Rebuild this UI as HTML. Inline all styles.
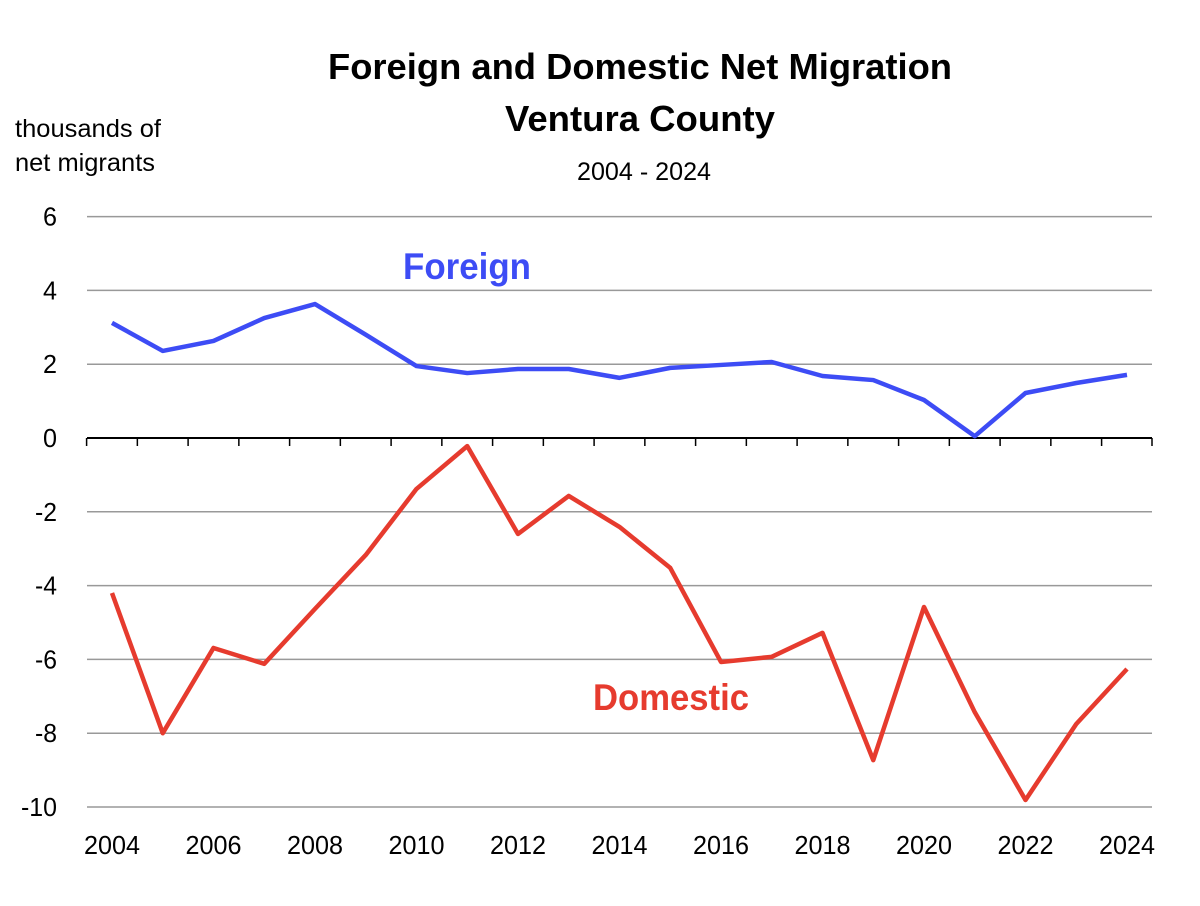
<!DOCTYPE html>
<html><head><meta charset="utf-8"><style>
body{margin:0;background:#fff;}
svg text{font-family:"Liberation Sans",Arial,sans-serif;}
</style></head><body>
<svg width="1200" height="901" viewBox="0 0 1200 901" xmlns="http://www.w3.org/2000/svg">
<text x="640" y="79" text-anchor="middle" font-size="36" font-weight="bold" textLength="624" lengthAdjust="spacingAndGlyphs">Foreign and Domestic Net Migration</text>
<text x="640" y="131" text-anchor="middle" font-size="36" font-weight="bold" textLength="270" lengthAdjust="spacingAndGlyphs">Ventura County</text>
<text x="644" y="180" text-anchor="middle" font-size="25" textLength="134" lengthAdjust="spacingAndGlyphs">2004 - 2024</text>
<text x="15" y="137" font-size="25" textLength="146" lengthAdjust="spacingAndGlyphs">thousands of</text>
<text x="15" y="171" font-size="25" textLength="140" lengthAdjust="spacingAndGlyphs">net migrants</text>
<g id="grid"></g>
<g id="marks"></g>
<text x="467" y="279" text-anchor="middle" font-size="37" font-weight="bold" fill="#3d4cf5" textLength="128" lengthAdjust="spacingAndGlyphs">Foreign</text>
<text x="671" y="710" text-anchor="middle" font-size="37" font-weight="bold" fill="#e63b2e" textLength="156" lengthAdjust="spacingAndGlyphs">Domestic</text>
</svg>
<script>
const years=[2004,2005,2006,2007,2008,2009,2010,2011,2012,2013,2014,2015,2016,2017,2018,2019,2020,2021,2022,2023,2024];
const foreign=[3.12,2.36,2.63,3.25,3.63,2.8,1.95,1.76,1.87,1.87,1.63,1.9,1.98,2.06,1.68,1.57,1.03,0.05,1.22,1.49,1.71];
const domestic=[-4.2,-8.0,-5.69,-6.12,-4.63,-3.17,-1.38,-0.22,-2.6,-1.57,-2.41,-3.52,-6.07,-5.93,-5.28,-8.73,-4.58,-7.43,-9.81,-7.75,-6.26];
const yTicks=[6,4,2,0,-2,-4,-6,-8,-10];
const xTickLabels=[2004,2006,2008,2010,2012,2014,2016,2018,2020,2022,2024];
const NS="http://www.w3.org/2000/svg";
const x=v=>112+(v-2004)*(1127-112)/20;
const y=v=>438-v*36.9;
const grid=document.getElementById('grid'), marks=document.getElementById('marks');
function mk(tag,attrs,parent){const e=document.createElementNS(NS,tag);for(const k in attrs)e.setAttribute(k,attrs[k]);parent.appendChild(e);return e;}
yTicks.forEach(t=>{
  const l=mk('line',{x1:87,x2:1152,y1:y(t),y2:y(t),stroke:t===0?'#000':'#999','stroke-width':t===0?2:1.5},grid);
  
  
  const s=String(t);
  const w=s.replace('-','').length*14+(s[0]==='-'?8:0);
  const tx=mk('text',{x:57,y:y(t)+9,'text-anchor':'end','font-size':26,textLength:w,lengthAdjust:'spacingAndGlyphs'},grid);
  tx.textContent=t;
  
  
});
years.forEach(yr=>{
  const tk=mk('line',{x1:x(yr)-25.4,x2:x(yr)-25.4,y1:438,y2:446,stroke:'#000','stroke-width':1.5},grid);
  
  
});
mk('line',{x1:1152,x2:1152,y1:438,y2:446,stroke:'#000','stroke-width':1.5},grid);
xTickLabels.forEach(yr=>{
  const tx=mk('text',{x:x(yr),y:854,'text-anchor':'middle','font-size':26,textLength:56,lengthAdjust:'spacingAndGlyphs'},grid);
  tx.textContent=yr;
  
  
});
function line(vals,color,name){
  const p=mk('polyline',{points:vals.map((v,i)=>x(years[i])+','+y(v)).join(' '),fill:'none',stroke:color,'stroke-width':4.5,'stroke-linejoin':'round'},marks);
  
  
}
line(foreign,'#3d4cf5','foreign-line');
line(domestic,'#e63b2e','domestic-line');
</script>
</body></html>
